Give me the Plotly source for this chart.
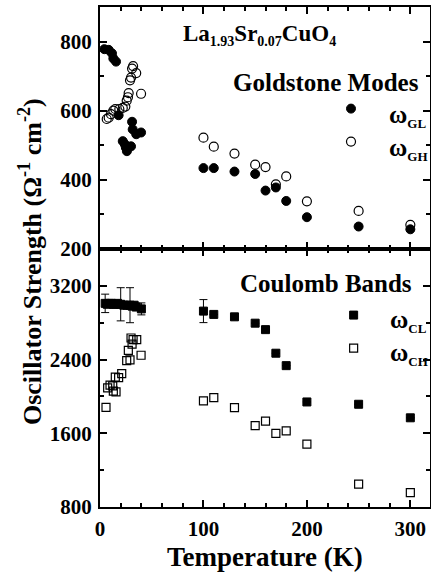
import plotly.graph_objects as go

# ---------------- data ----------------
T_GL = [4.2, 8.4, 11.6, 12.9, 15.5, 18, 22, 24, 25, 26, 30, 31, 31.6, 35, 39.7,
        100, 110, 130, 150, 160, 170, 180, 200, 250, 300]
V_GL = [778, 776, 766, 751, 742, 587, 512, 503, 493, 483, 497, 568, 546, 532, 537,
        434, 434, 424, 417, 369, 378, 339, 292, 265, 257]

T_GH = [6.5, 8.4, 10.6, 12.9, 14.8, 18.7, 22, 24.5, 25.8, 27, 27.7, 29, 30, 31, 32, 35, 39.7,
        100, 110, 130, 150, 160, 170, 180, 200, 250, 300]
V_GH = [576, 580, 590, 600, 605, 605, 608, 612, 629, 639, 651, 688, 696, 722, 729, 709, 649,
        522, 496, 476, 444, 437, 387, 410, 338, 310, 270]

T_CL = [5, 7, 9, 11, 13, 15, 17, 20, 23, 26, 29, 31, 33, 35, 40,
        100, 110, 130, 150, 160, 170, 180, 200, 250, 300]
V_CL = [3010, 3000, 3010, 3010, 3000, 3000, 3010, 3000, 2990, 2990, 2990, 2980, 2990, 2970, 2950,
        2926, 2890, 2864, 2795, 2725, 2469, 2334, 1940, 1915, 1768]
E_CL = [100, 0, 0, 0, 0, 0, 0, 180, 0, 0, 190, 0, 0, 0, 65,
        125, 0, 0, 0, 0, 0, 0, 0, 0, 0]

T_CH = [5.8, 7.4, 9.7, 12.3, 12.9, 15.5, 14.8, 18, 21, 25.8, 27.4, 29, 30, 31, 32, 35.5, 39.7,
        100, 110, 130, 150, 160, 170, 180, 200, 250, 300]
V_CH = [1881, 2093, 2122, 2115, 2057, 2049, 2210, 2203, 2247, 2389, 2499, 2396, 2634, 2568, 2616, 2616, 2447,
        1951, 1987, 1878, 1684, 1732, 1600, 1626, 1483, 1049, 957]

SERIES_LABELS = ["GL", "GH", "CL", "CH"]
X_TICKS = [0, 100, 200, 300]
Y_TICKS_TOP = [200, 400, 600, 800]
Y_TICKS_BOT = [800, 1600, 2400, 3200]

FONT = "Liberation Serif, Times New Roman, serif"
MS = 9


def omega(sub):
    return "ω<sub><span style='font-size:13px'>%s</span></sub>" % sub


fig = go.Figure()

fig.add_trace(go.Scatter(x=T_GL, y=V_GL, mode="markers", xaxis="x2", yaxis="y2",
                         name=" ", legend="legend",
                         marker=dict(symbol="circle", size=MS, color="black",
                                     line=dict(color="black", width=1))))
fig.add_trace(go.Scatter(x=T_GH, y=V_GH, mode="markers", xaxis="x2", yaxis="y2",
                         name=" ", legend="legend2",
                         marker=dict(symbol="circle-open", size=MS, color="black",
                                     line=dict(color="black", width=1.2))))
fig.add_trace(go.Scatter(x=T_CL, y=V_CL, mode="markers", xaxis="x", yaxis="y",
                         name=" ", legend="legend3",
                         error_y=dict(type="data", array=E_CL, visible=True,
                                      color="black", thickness=1, width=4),
                         marker=dict(symbol="square", size=MS - 1, color="black",
                                     line=dict(color="black", width=1))))
fig.add_trace(go.Scatter(x=T_CH, y=V_CH, mode="markers", xaxis="x", yaxis="y",
                         name=" ", legend="legend4",
                         marker=dict(symbol="square-open", size=MS - 1, color="black",
                                     line=dict(color="black", width=1.2))))

axis_common = dict(showline=True, linecolor="black", linewidth=2, mirror="allticks",
                   ticks="inside", ticklen=7, tickwidth=1.5, tickcolor="black",
                   showgrid=False, zeroline=False,
                   tickfont=dict(family=FONT, size=21, color="black", weight="bold"))

fig.update_layout(
    width=431, height=578,
    margin=dict(l=100, r=1, t=7, b=71, autoexpand=False),
    paper_bgcolor="white", plot_bgcolor="white",
    showlegend=True,
    xaxis=dict(domain=[0, 1], anchor="y", range=[0, 319], tickvals=X_TICKS,
               minor=dict(dtick=20, tick0=0, ticks="inside", ticklen=4, tickwidth=1.5, tickcolor="black"),
               ticklabelstandoff=2, **axis_common),
    xaxis2=dict(domain=[0, 1], anchor="y2", matches="x", range=[0, 319], tickvals=X_TICKS,
                showticklabels=False,
                minor=dict(dtick=20, tick0=0, ticks="inside", ticklen=4, tickwidth=1.5, tickcolor="black"),
                **axis_common),
    yaxis=dict(domain=[0, 0.516], anchor="x", range=[800, 3600], tickvals=Y_TICKS_BOT,
               minor=dict(dtick=400, tick0=800, ticks="inside", ticklen=4, tickwidth=1.5, tickcolor="black"),
               ticklabelstandoff=2, **axis_common),
    yaxis2=dict(domain=[0.516, 1], anchor="x2", range=[200, 900], tickvals=Y_TICKS_TOP,
                minor=dict(dtick=100, tick0=200, ticks="inside", ticklen=4, tickwidth=1.5, tickcolor="black"),
                ticklabelstandoff=2, **axis_common),
)

leg_common = dict(xanchor="left", yanchor="middle", bgcolor="rgba(0,0,0,0)",
                  itemwidth=30, itemsizing="trace",
                  font=dict(family=FONT, size=14, color="black"))
fig.update_layout(
    legend=dict(x=0.700, y=0.796, **leg_common),
    legend2=dict(x=0.700, y=0.730, **leg_common),
    legend3=dict(x=0.708, y=0.383, **leg_common),
    legend4=dict(x=0.708, y=0.317, **leg_common),
)

ann_font = dict(family=FONT, color="black", weight="bold")
# legend labels
for lab, xx, yy in zip(SERIES_LABELS, [0.870, 0.870, 0.874, 0.874], [0.782, 0.716, 0.372, 0.306]):
    fig.add_annotation(text=omega(lab), xref="paper", yref="paper", x=xx, y=yy,
                       xanchor="left", yanchor="middle", showarrow=False,
                       font=dict(size=25, **ann_font))

fig.add_annotation(text="La<sub><span style='font-size:14px'>1.93</span></sub>Sr"
                        "<sub><span style='font-size:14px'>0.07</span></sub>CuO"
                        "<sub><span style='font-size:14px'>4</span></sub>",
                   xref="paper", yref="paper",
                   x=0.482, y=0.944, xanchor="center", yanchor="middle", showarrow=False,
                   font=dict(size=23, **ann_font))
fig.add_annotation(text="Goldstone Modes", xref="paper", yref="paper",
                   x=0.685, y=0.85, xanchor="center", yanchor="middle", showarrow=False,
                   font=dict(size=25, **ann_font))
fig.add_annotation(text="Coulomb Bands", xref="paper", yref="paper",
                   x=0.685, y=0.448, xanchor="center", yanchor="middle", showarrow=False,
                   font=dict(size=25, **ann_font))
fig.add_annotation(text="Temperature (K)", xref="paper", yref="paper",
                   x=0.5, y=-0.1, xanchor="center", yanchor="middle", showarrow=False,
                   font=dict(size=27, **ann_font))
fig.add_annotation(text="Oscillator Strength (Ω<sup>-1</sup> cm<sup>-2</sup>)", xref="paper", yref="paper",
                   x=-0.212, y=0.49, xanchor="center", yanchor="middle", showarrow=False,
                   textangle=-90, font=dict(size=26, **ann_font))

fig.write_html("out.html")
